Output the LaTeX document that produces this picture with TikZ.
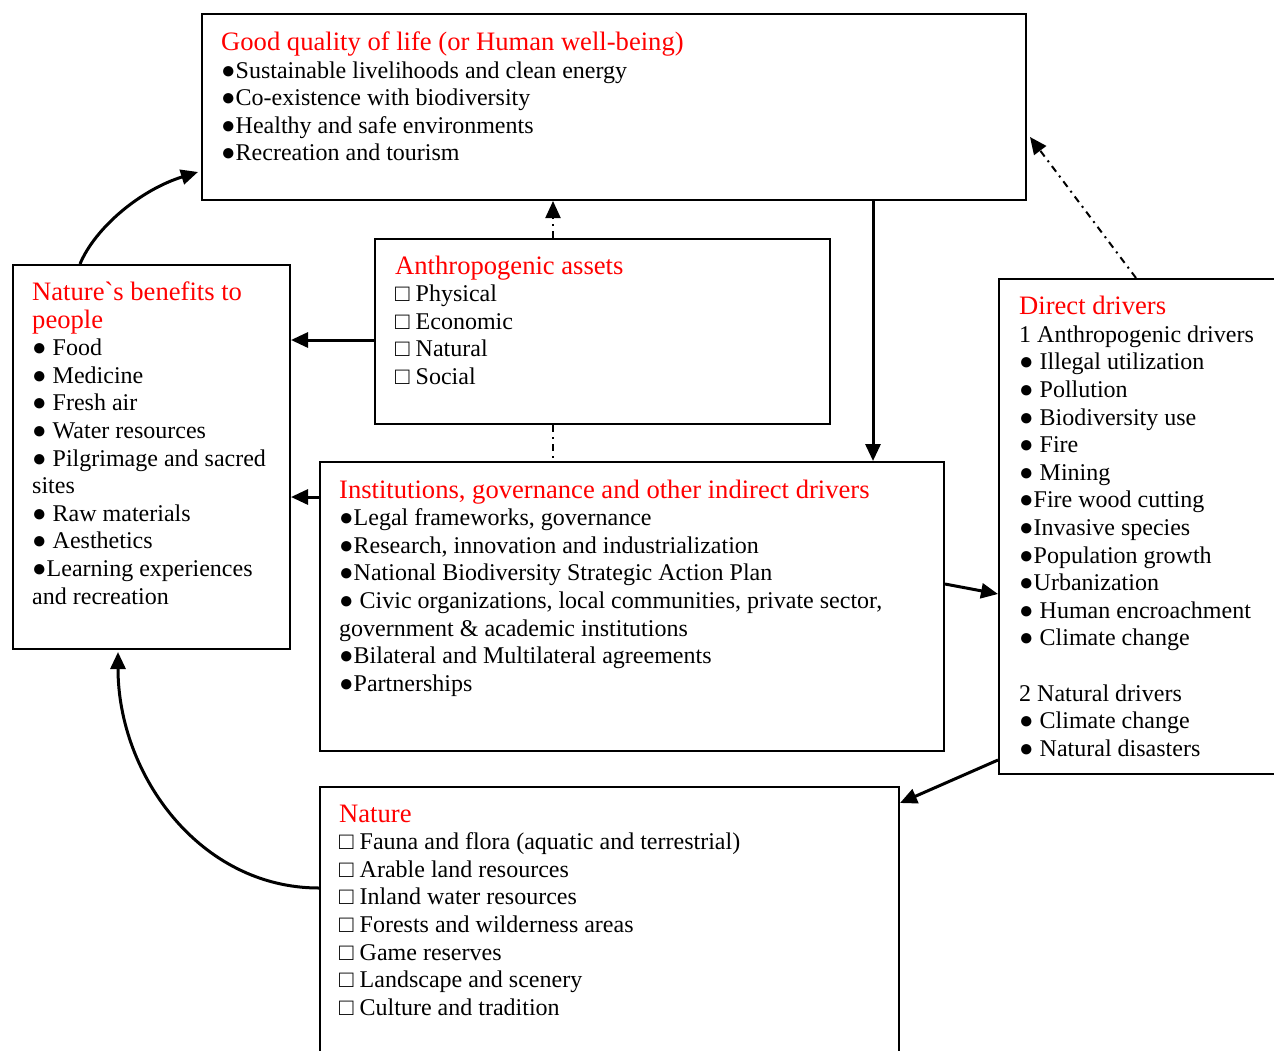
\documentclass[tikz,border=0pt]{standalone}
\usepackage{fontspec}
\setmainfont{Liberation Serif}
\usetikzlibrary{arrows.meta}

\tikzset{
	box/.style={draw, line width=2pt, anchor=north west, inner sep=0pt},
	txt/.style={anchor=north west, align=left, inner sep=0pt, font=\fontsize{24}{27.6}\selectfont},
	arr/.style={line width=3pt, -{Triangle[length=17pt,width=15pt]}},
	dashdot/.style={line width=2pt, dash pattern=on 7pt off 5pt on 2pt off 5pt},
	dda/.style={dashdot, -{Triangle[length=17pt,width=15pt]}},
}
\newcommand{\ttl}[1]{{\fontsize{26.6}{27.6}\selectfont\textcolor{red}{#1}}}

\begin{document}
\begin{tikzpicture}[x=1pt, y=-1pt]
	\useasboundingbox (0,0) rectangle (1274,1050);
	% boxes
	\node [box, minimum width=824, minimum height=186] (good) at (201,13) {};
	\node [box, minimum width=455, minimum height=185] (anthro) at (374,238) {};
	\node [box, minimum width=277, minimum height=384] (ben) at (12,264) {};
	\node [box, minimum width=624, minimum height=289] (inst) at (319,461) {};
	\node [box, minimum width=290, minimum height=495] (direct) at (998,278) {};
	\node [box, minimum width=579, minimum height=290] (nature) at (319,786) {};
	% texts
	\node [txt] (goodtxt) at (221,31.5) {\ttl{Good quality of life (or Human well-being)}\\
		●Sustainable livelihoods and clean energy\\
		●Co-existence with biodiversity\\
		●Healthy and safe environments\\
		●Recreation and tourism};
	\node [txt] (anthrotxt) at (395,255.5) {\ttl{Anthropogenic assets}\\
		□ Physical\\
		□ Economic\\
		□ Natural\\
		□ Social};
	\node [txt] (bentxt) at (32,281.5) {\ttl{Nature\textasciigrave s benefits to}\\
		\ttl{people}\\
		● Food\\
		● Medicine\\
		● Fresh air\\
		● Water resources\\
		● Pilgrimage and sacred\\
		sites\\
		● Raw materials\\
		● Aesthetics\\
		●Learning experiences\\
		and recreation};
	\node [txt] (insttxt) at (339,479.5) {\ttl{Institutions, governance and other indirect drivers}\\
		●Legal frameworks, governance\\
		●Research, innovation and industrialization\\
		●National Biodiversity Strategic Action Plan\\
		● Civic organizations, local communities, private sector,\\
		government \& academic institutions\\
		●Bilateral and Multilateral agreements\\
		●Partnerships};
	\node [txt] (directtxt) at (1019,296) {\ttl{Direct drivers}\\
		1 Anthropogenic drivers\\
		● Illegal utilization\\
		● Pollution\\
		● Biodiversity use\\
		● Fire\\
		● Mining\\
		●Fire wood cutting\\
		●Invasive species\\
		●Population growth\\
		●Urbanization\\
		● Human encroachment\\
		● Climate change\\[27.6pt]
		2 Natural drivers\\
		● Climate change\\
		● Natural disasters};
	\node [txt] (naturetxt) at (339,804.5) {\ttl{Nature}\\
		□ Fauna and flora (aquatic and terrestrial)\\
		□ Arable land resources\\
		□ Inland water resources\\
		□ Forests and wilderness areas\\
		□ Game reserves\\
		□ Landscape and scenery\\
		□ Culture and tradition};
	% helper points
	\coordinate (xa) at (873,0);
	\coordinate (xb) at (553,0);
	\coordinate (ya) at (0,340);
	\coordinate (yb) at (0,497);
	\coordinate (yc) at (0,584);
	\coordinate (yd) at (0,594);
	\coordinate (ye) at (0,760);
	\coordinate (yf) at (0,803);
	\coordinate (xc) at (1136,0);
	\coordinate (yg) at (0,137);
	\coordinate (xd) at (80,0);
	\coordinate (yh) at (0,172);
	\coordinate (yi) at (0,888);
	\coordinate (xe) at (118,0);
	% connectors
	\draw [arr] (good.south -| xa) -- (inst.north -| xa);
	\draw [dda] (anthro.north -| xb) -- (good.south -| xb);
	\draw [dashdot] (anthro.south -| xb) -- (inst.north -| xb);
	\draw [arr] (anthro.west |- ya) -- (ben.east |- ya);
	\draw [arr] (inst.west |- yb) -- (ben.east |- yb);
	\draw [arr] (inst.east |- yc) -- (direct.west |- yd);
	\draw [arr] (direct.west |- ye) -- (nature.east |- yf);
	\draw [dda] (direct.north -| xc) -- ([xshift=3pt]good.east |- yg);
	\draw [arr] (ben.north -| xd) .. controls (95,228) and (140,190) .. ([xshift=-3pt]good.west |- yh);
	\draw [arr] (nature.west |- yi) .. controls (200,888) and (118,775) .. ([yshift=-2pt]ben.south -| xe);
\end{tikzpicture}
\end{document}
